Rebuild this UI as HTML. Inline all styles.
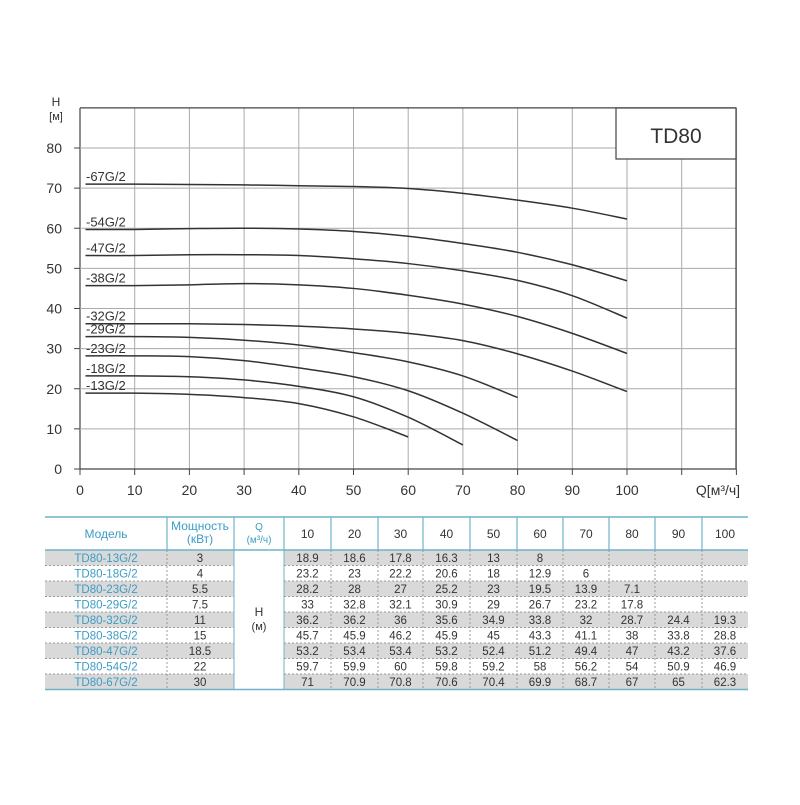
<!DOCTYPE html>
<html><head><meta charset="utf-8"><style>
body{margin:0;background:#fff;}
svg text{font-family:"Liberation Sans",sans-serif;}
</style></head><body>
<svg id="s" width="800" height="800" xmlns="http://www.w3.org/2000/svg">
<rect width="800" height="800" fill="#fff"/>
<g id="grid"></g>
<g id="curves" fill="none" stroke="#333" stroke-width="1.5"></g>
<rect x="616" y="108" width="120" height="51" fill="#fff" stroke="#444" stroke-width="1.2"/>
<text x="676" y="143" font-size="21" text-anchor="middle" fill="#333">TD80</text>
<text x="56" y="106" font-size="12" text-anchor="middle" fill="#333">H</text>
<text x="56" y="120" font-size="11" text-anchor="middle" fill="#333">[м]</text>
<text x="718" y="495" font-size="14" text-anchor="middle" fill="#333">Q[м³/ч]</text>
<g id="table"></g>
</svg>
<script>
(function(){
const NS="http://www.w3.org/2000/svg";
function el(p,t,a,txt){const e=document.createElementNS(NS,t);for(const k in a)e.setAttribute(k,a[k]);if(txt!==undefined)e.textContent=txt;p.appendChild(e);return e;}
const X=q=>80+q*5.47, Y=h=>469-h*4.0125;
const g=document.getElementById('grid');
for(let i=0;i<=12;i++){el(g,'line',{x1:X(i*10),y1:108,x2:X(i*10),y2:469,stroke:i==0?'#444':'#aaa','stroke-width':i==0?1.2:1});}
for(let j=0;j<=9;j++){el(g,'line',{x1:80,y1:Y(j*10),x2:736,y2:Y(j*10),stroke:j==0||j==9?'#444':'#aaa','stroke-width':j==0||j==9?1.2:1});}
el(g,'line',{x1:736,y1:108,x2:736,y2:469,stroke:'#444','stroke-width':1.2});
for(let j=0;j<=8;j++){el(g,'line',{x1:74,y1:Y(j*10),x2:80,y2:Y(j*10),stroke:'#444'});el(g,'text',{x:62,y:Y(j*10)+5,'font-size':14,'text-anchor':'end',fill:'#333'},j*10);}
for(let i=0;i<=12;i++){el(g,'line',{x1:X(i*10),y1:469,x2:X(i*10),y2:475,stroke:'#444'});if(i<=10)el(g,'text',{x:X(i*10),y:495,'font-size':14,'text-anchor':'middle',fill:'#333'},i*10);}
const data=[
["TD80-13G/2","3",[18.9,18.6,17.8,16.3,13,8]],
["TD80-18G/2","4",[23.2,23,22.2,20.6,18,12.9,6]],
["TD80-23G/2","5.5",[28.2,28,27,25.2,23,19.5,13.9,7.1]],
["TD80-29G/2","7.5",[33,32.8,32.1,30.9,29,26.7,23.2,17.8]],
["TD80-32G/2","11",[36.2,36.2,36,35.6,34.9,33.8,32,28.7,24.4,19.3]],
["TD80-38G/2","15",[45.7,45.9,46.2,45.9,45,43.3,41.1,38,33.8,28.8]],
["TD80-47G/2","18.5",[53.2,53.4,53.4,53.2,52.4,51.2,49.4,47,43.2,37.6]],
["TD80-54G/2","22",[59.7,59.9,60,59.8,59.2,58,56.2,54,50.9,46.9]],
["TD80-67G/2","30",[71,70.9,70.8,70.6,70.4,69.9,68.7,67,65,62.3]]];
const cg=document.getElementById('curves');
data.forEach(d=>{
 const pts=[[X(1),Y(d[2][0])]].concat(d[2].map((v,i)=>[X((i+1)*10),Y(v)]));
 let s="M"+pts[0][0]+","+pts[0][1];
 for(let i=0;i<pts.length-1;i++){const p0=pts[Math.max(0,i-1)],p1=pts[i],p2=pts[i+1],p3=pts[Math.min(pts.length-1,i+2)];
  s+=` C${p1[0]+(p2[0]-p0[0])/6},${p1[1]+(p2[1]-p0[1])/6} ${p2[0]-(p3[0]-p1[0])/6},${p2[1]-(p3[1]-p1[1])/6} ${p2[0]},${p2[1]}`;}
 el(cg,'path',{d:s});
 el(g,'text',{x:86,y:Y(d[2][0])-3,'font-size':13,fill:'#333'},d[0].slice(4));
});
const t=document.getElementById('table');
const cols=[45,167,234,284,331,378,423,470,517,563,609,655,702,748];
const tp=517,hb=550,rh=15.5;
data.forEach((d,r)=>{const y=hb+r*rh;if(r%2==0){el(t,'rect',{x:45,y:y,width:189,height:rh,fill:'#d9d9d9'});el(t,'rect',{x:284,y:y,width:464,height:rh,fill:'#d9d9d9'});}
 el(t,'text',{x:106,y:y+12,'font-size':11.5,'text-anchor':'middle',fill:'#3b9dc4'},d[0]);
 el(t,'text',{x:200,y:y+12,'font-size':11.5,'text-anchor':'middle',fill:'#333'},d[1]);
 d[2].forEach((v,i)=>el(t,'text',{x:(cols[3+i]+cols[4+i])/2,y:y+12,'font-size':11.5,'text-anchor':'middle',fill:'#333'},v));
 if(r>0){el(t,'line',{x1:45,y1:y,x2:234,y2:y,stroke:'#999','stroke-dasharray':'2,2'});el(t,'line',{x1:284,y1:y,x2:748,y2:y,stroke:'#999','stroke-dasharray':'2,2'});}
});
const bot=hb+9*rh;
el(t,'line',{x1:45,y1:tp,x2:748,y2:tp,stroke:'#6fb3c8','stroke-width':1.5});
el(t,'line',{x1:45,y1:hb,x2:748,y2:hb,stroke:'#6fb3c8','stroke-width':1.5});
el(t,'line',{x1:45,y1:bot,x2:748,y2:bot,stroke:'#6fb3c8','stroke-width':1.5});
cols.slice(1,-1).forEach(x=>{el(t,'line',{x1:x,y1:tp,x2:x,y2:hb,stroke:'#6fb3c8','stroke-width':1.2});
 const solid=(x==234||x==284);
 const a={x1:x,y1:hb,x2:x,y2:bot,stroke:solid?'#6fb3c8':'#999'};if(!solid)a['stroke-dasharray']='2,2';el(t,'line',a);});
const hc='#3b9dc4';
el(t,'text',{x:106,y:538,'font-size':12,'text-anchor':'middle',fill:hc},'Модель');
el(t,'text',{x:200,y:530,'font-size':12,'text-anchor':'middle',fill:hc},'Мощность');
el(t,'text',{x:200,y:543,'font-size':12,'text-anchor':'middle',fill:hc},'(кВт)');
el(t,'text',{x:259,y:530,'font-size':10,'text-anchor':'middle',fill:hc},'Q');
el(t,'text',{x:259,y:543,'font-size':10,'text-anchor':'middle',fill:hc},'(м³/ч)');
for(let i=0;i<10;i++)el(t,'text',{x:(cols[3+i]+cols[4+i])/2,y:538,'font-size':12,'text-anchor':'middle',fill:'#333'},(i+1)*10);
el(t,'text',{x:259,y:616,'font-size':12,'text-anchor':'middle',fill:'#333'},'H');
el(t,'text',{x:259,y:630,'font-size':11,'text-anchor':'middle',fill:'#333'},'(м)');
})();
</script>
</body></html>
